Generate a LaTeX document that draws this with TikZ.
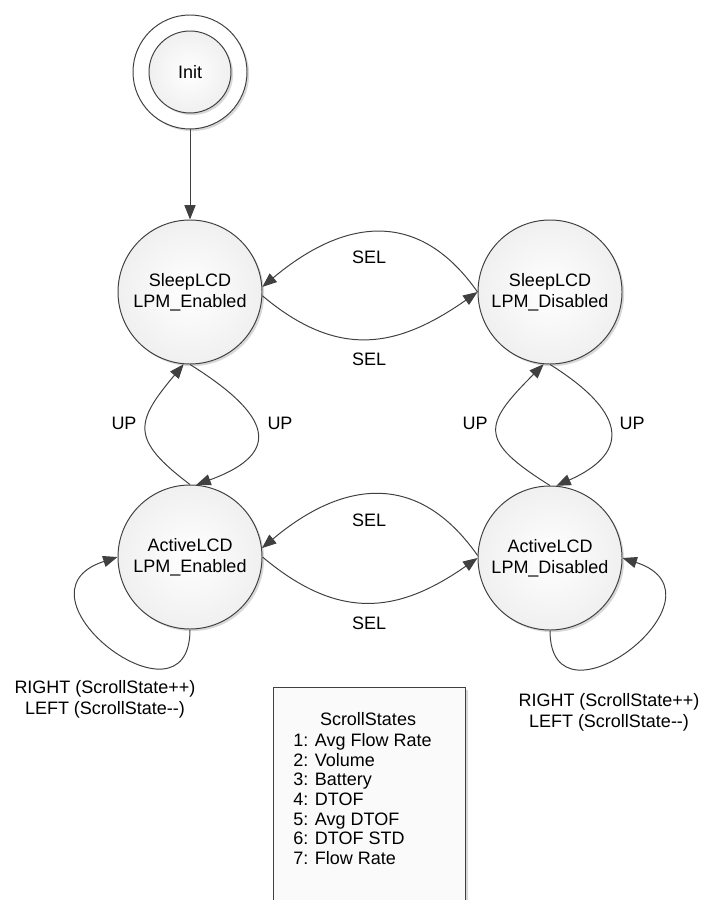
\documentclass[tikz,border=0pt]{standalone}
\usepackage{fontspec}
\setmainfont{Liberation Sans}
\usetikzlibrary{arrows.meta,shadows}

\tikzset{
  lcdstate/.style={circle, draw=black!75, line width=0.7pt, minimum size=3.6cm, inner sep=0pt, align=center,
    shading=radial, inner color=white, outer color=black!6,
    drop shadow={shadow xshift=1.5pt, shadow yshift=-1.5pt, fill=black!30, opacity=.5}},
  initring/.style={circle, draw=black!75, line width=0.7pt, fill=white, minimum size=2.85cm,
    drop shadow={shadow xshift=1.5pt, shadow yshift=-1.5pt, fill=black!30, opacity=.5}},
  notebox/.style={draw=black!75, line width=0.7pt, fill=black!2, minimum width=4.8cm, minimum height=5.65cm,
    drop shadow={shadow xshift=2pt, shadow yshift=-2pt, fill=black!30, opacity=.5}},
  link/.style={draw=black!75, line width=0.7pt, -{Triangle[length=0.36cm,width=0.28cm]}}
}

\begin{document}
\begin{tikzpicture}[font=\fontsize{12.8}{15}\selectfont]
\useasboundingbox (0,0) rectangle (17.6,-22.5);

\node[initring] (initring) at (4.75,-1.8) {};
\node[lcdstate, minimum size=2.05cm] (init) at (4.75,-1.8) {Init};

\node[lcdstate] (sleepen) at (4.75,-7.3) {SleepLCD\\LPM\_Enabled};
\node[lcdstate] (sleepdis) at (13.75,-7.3) {SleepLCD\\LPM\_Disabled};
\node[lcdstate] (activeen) at (4.75,-13.925) {ActiveLCD\\LPM\_Enabled};
\node[lcdstate] (activedis) at (13.75,-13.95) {ActiveLCD\\LPM\_Disabled};

\draw[link] (initring) -- (sleepen);

\draw[link] (sleepdis.west) to[out=125, in=40, looseness=1.24] (sleepen.4);
\draw[link] (sleepen.-3) to[out=-40, in=-145, looseness=1.17] (sleepdis.west);
\node (selsleeptop) at (9.225,-6.425) {SEL};
\node (selsleepbot) at (9.225,-8.975) {SEL};

\draw[link] (activedis.178) to[out=125, in=40, looseness=1.24] (activeen.7);
\draw[link] (activeen.east) to[out=-40, in=-145, looseness=1.17] (activedis.west);
\node (selactivetop) at (9.225,-13.0) {SEL};
\node (selactivebot) at (9.225,-15.575) {SEL};

\draw[link] (activeen.north) to[out=143, in=-130, looseness=1.6] (sleepen.-95);
\draw[link] (sleepen.south) to[out=-32, in=20, looseness=2.0] (activeen.85);
\node (upenleft) at (3.1,-10.575) {UP};
\node (upenright) at (7.0,-10.575) {UP};

\draw[link] (activedis.north) to[out=148, in=-135, looseness=1.8] (sleepdis.-95);
\draw[link] (sleepdis.south) to[out=-32, in=24, looseness=1.8] (activedis.85);
\node (updisleft) at (11.875,-10.575) {UP};
\node (updisright) at (15.8,-10.575) {UP};

\draw[link] (activeen.south) to[out=-90, in=198, out distance=2.7cm, in distance=3.0cm] (activeen.west);
\draw[link] (activedis.south) to[out=-90, in=-18, out distance=2.7cm, in distance=3.0cm] (activedis.east);
\node[align=center] (scrollen) at (2.625,-17.49) {RIGHT (ScrollState++)\\LEFT (ScrollState-{}-)};
\node[align=center] (scrolldis) at (15.225,-17.8) {RIGHT (ScrollState++)\\LEFT (ScrollState-{}-)};

\node[notebox] (statebox) at (9.225,-20.0) {};
\node (statetitle) at (9.2,-17.975) {ScrollStates};
\node[anchor=west, inner sep=0pt, align=left, font=\fontsize{12.8}{13.97}\selectfont] (statelist) at (7.325,-19.975)
  {1: Avg Flow Rate\\2: Volume\\3: Battery\\4: DTOF\\5: Avg DTOF\\6: DTOF STD\\7: Flow Rate};
\end{tikzpicture}
\end{document}
